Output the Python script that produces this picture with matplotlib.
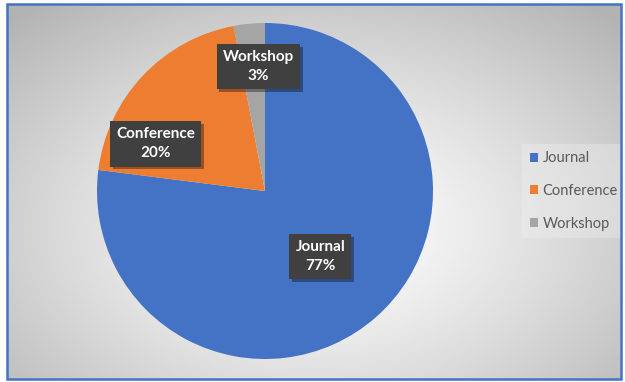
import numpy as np
import matplotlib.pyplot as plt
import matplotlib.patheffects as pe
from matplotlib.patches import Rectangle

categories = ['Journal', 'Conference', 'Workshop']
shares = [77, 20, 3]
colors = ['#4472C4', '#ED7D31', '#A5A5A5']
# label box centres, in pie radius units
label_pos = [(0.33, -0.39), (-0.65, 0.28), (-0.04, 0.74)]

W, H = 625, 382
fig = plt.figure(figsize=(W / 100, H / 100), dpi=100)
fig.patch.set_facecolor('white')

# chart area with radial grey gradient
x0, y0, x1, y1 = 7, 4, 621, 379
bg = fig.add_axes([x0 / W, 1 - y1 / H, (x1 - x0) / W, (y1 - y0) / H])
yy, xx = np.mgrid[0:1:200j, 0:1:300j]
r = np.sqrt(((xx - 0.5) / 0.72) ** 2 + ((yy - 0.6) / 0.78) ** 2)
shade = 1.0 - 0.3 * np.clip(r, 0, 1) ** 1.3
bg.imshow(shade, cmap='gray', vmin=0, vmax=1, aspect='auto',
          extent=[0, 1, 0, 1], interpolation='bilinear')
bg.set_axis_off()
fig.patches.append(Rectangle((x0 / W, 1 - y1 / H), (x1 - x0) / W, (y1 - y0) / H,
                             transform=fig.transFigure, fill=False,
                             edgecolor='#4472C4', linewidth=1.8, zorder=10))

# pie
cx, cy, rad = 265, 191, 168
ax = fig.add_axes([(cx - rad) / W, 1 - (cy + rad) / H, 2 * rad / W, 2 * rad / H])
wedges, _ = ax.pie(shares, colors=colors, startangle=90, counterclock=False,
                   radius=1.0, wedgeprops=dict(linewidth=0))
ax.set_xlim(-1, 1)
ax.set_ylim(-1, 1)
ax.set_aspect('equal')

for name, val, (lx, ly) in zip(categories, shares, label_pos):
    t = ax.text(lx, ly, f'{name}\n{val}%', ha='center', va='center',
                color='white', fontsize=11, fontweight='bold', family='Lato',
                linespacing=1.45,
                bbox=dict(boxstyle='square,pad=0.4', facecolor='#404040',
                          edgecolor='none'))
    t.get_bbox_patch().set_path_effects([
        pe.SimplePatchShadow(offset=(2, -2), shadow_rgbFace='black', alpha=0.35),
        pe.Normal()])

leg = fig.legend(wedges, categories, loc='center left',
                 bbox_to_anchor=(515 / W, 1 - 191 / H),
                 frameon=True, fancybox=False, framealpha=0.35,
                 facecolor='#f2f2f2', edgecolor='none',
                 prop=dict(family='Lato', size=10.5), labelcolor='#595959',
                 handlelength=0.6, handleheight=0.6, handletextpad=0.3,
                 labelspacing=1.28, borderpad=0.5)

fig.savefig('out.png', dpi=100)
